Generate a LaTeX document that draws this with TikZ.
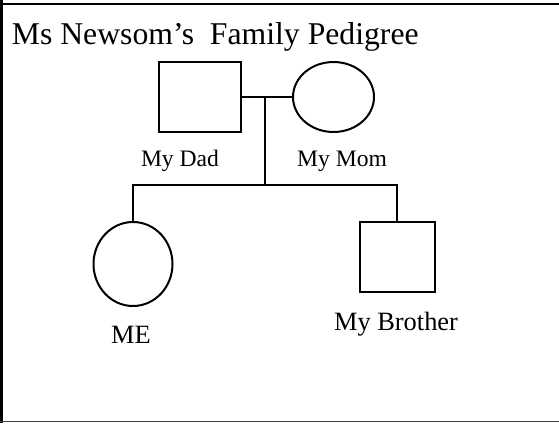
\documentclass[tikz,border=0pt]{standalone}
\usepackage{fontspec}
\setmainfont{Liberation Serif}
\usetikzlibrary{shapes.geometric}
\tikzset{
  person/.style={draw, line width=2pt, inner sep=0pt},
  male/.style={person, rectangle, minimum height=70pt},
  female/.style={person, ellipse},
  link/.style={line width=2pt},
  lbl/.style={anchor=base, inner sep=0pt},
  smalllbl/.style={lbl, font=\fontsize{23.6}{28}\selectfont},
  biglbl/.style={lbl, font=\fontsize{26.4}{32}\selectfont}
}
\begin{document}
\begin{tikzpicture}[x=1pt, y=-1pt]
            \useasboundingbox (0,0) rectangle (559,423);
            \draw[line width=3pt] (1.5,0) -- (1.5,423);
            \draw[line width=2.5pt] (0,4) -- (559,4);
            \draw[line width=1.5pt, black!75] (0,421.5) -- (559,421.5);
            
            \node[anchor=base west, inner sep=0pt, font=\fontsize{31.7}{38}\selectfont] (title) at (11.7, 44) {Ms Newsom’s\ \ Family Pedigree};
            
            \node[male, minimum width=82pt] (dad) at (200, 97) {};
            \node[female, minimum width=81pt, minimum height=70pt] (mom) at (333.5, 97) {};
            \node[female, minimum width=79pt, minimum height=84pt] (me) at (133, 264) {};
            \node[male, minimum width=75pt] (bro) at (397, 257) {};
            
            \node[smalllbl] (dadlbl) at (180, 166) {My Dad};
            \node[smalllbl] (momlbl) at (342, 166) {My Mom};
            \node[biglbl] (melbl) at (131, 343) {ME};
            \node[biglbl] (brolbl) at (396, 330) {My Brother};
            
            \coordinate (join) at (265, 97);
            \coordinate (drop) at (265, 185);
            
            \draw[link] (dad.east) -- (mom.west);
            \draw[link] (join) -- (drop);
            \draw[link] (me.north) |- (drop) -| (bro.north);
\end{tikzpicture}
\end{document}
